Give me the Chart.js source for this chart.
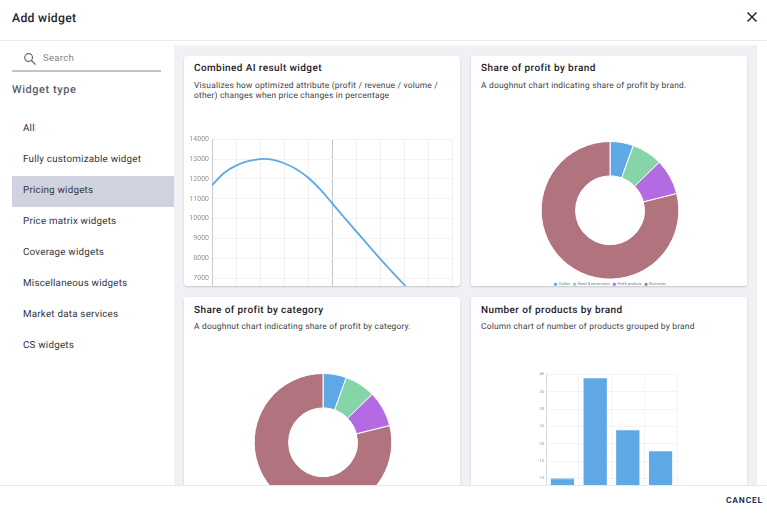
<!DOCTYPE html>
<html>
<head>
<meta charset="utf-8">
<script src="https://cdn.jsdelivr.net/npm/chart.js@4"></script>
<style>
  html, body { margin: 0; padding: 0; background: #fff; }
  body { width: 767px; height: 515px; position: relative; overflow: hidden; font-family: Roboto, sans-serif; color: #22252b; text-rendering: geometricPrecision; }
  .abs { position: absolute; white-space: nowrap; }
  #main { position: absolute; left: 174px; top: 45px; width: 583px; height: 470px; background: #f0f1f5; }
  #topline { position: absolute; left: 0; top: 40px; width: 767px; height: 1px; background: #e9eaee; }
  #footer { position: absolute; left: 0; top: 485px; width: 767px; height: 30px; background: #fff; border-top: 1px solid #e6e7ea; box-sizing: border-box; }
  .card { position: absolute; background: #fff; border-radius: 3px; box-shadow: 0 1px 2px rgba(40,45,70,.22); overflow: hidden; width: 276px; }
  .card h3 { position: absolute; left: 10px; top: 6px; margin: 0; font-size: 10px; line-height: 14px; font-weight: 500; letter-spacing: .4px; color: #1d2026; white-space: nowrap; }
  .card p { position: absolute; left: 10px; top: 25px; margin: 0; font-size: 8.4px; line-height: 10px; letter-spacing: .22px; color: #3c3f46; white-space: nowrap; }
  .card canvas { position: absolute; left: 0; }
  .nav { position: absolute; left: 23px; font-size: 9.8px; letter-spacing: .22px; line-height: 12px; color: #33363d; white-space: nowrap; }
  #sel { position: absolute; left: 12px; top: 176px; width: 162px; height: 31px; background: #d0d3df; }
</style>
</head>
<body>
<div id="main"></div>
<div id="topline"></div>
<div class="abs" style="left:12px;top:10px;font-size:12.2px;line-height:16px;font-weight:500;letter-spacing:.3px;color:#23262c">Add widget</div>
<svg class="abs" style="left:746px;top:11px" width="12" height="12" viewBox="0 0 12 12"><path d="M1.5 1.5L10.5 10.5M10.5 1.5L1.5 10.5" stroke="#23262c" stroke-width="1.5" fill="none"/></svg>

<svg class="abs" style="left:23px;top:52px" width="14" height="14" viewBox="0 0 14 14"><circle cx="5.6" cy="5.6" r="3.9" stroke="#63666d" stroke-width="1.2" fill="none"/><path d="M8.6 8.6L12.6 12.6" stroke="#63666d" stroke-width="1.3"/></svg>
<div class="abs" style="left:43px;top:52px;font-size:9.5px;line-height:13px;letter-spacing:.3px;color:#83868d">Search</div>
<div class="abs" style="left:12px;top:70px;width:149px;height:2px;background:#c3c4c8"></div>
<div class="abs" style="left:12px;top:83px;font-size:11px;line-height:14px;font-weight:500;letter-spacing:.55px;color:#5d6067">Widget type</div>
<div id="sel"></div>
<div id="navList"></div>

<div class="card" style="left:184px;top:56px;height:230px">
  <h3>Combined AI result widget</h3>
  <p>Visualizes how optimized attribute (profit / revenue / volume /<br>other) changes when price changes in percentage</p>
  <canvas id="lineChart" style="top:76px" width="276" height="178"></canvas>
</div>
<div class="card" style="left:471px;top:56px;height:230px">
  <h3>Share of profit by brand</h3>
  <p>A doughnut chart indicating share of profit by brand.</p>
  <canvas id="brandChart" style="top:85px;left:1px" width="276" height="155"></canvas>
</div>
<div class="card" style="left:184px;top:297px;height:231px">
  <h3 style="top:7px">Share of profit by category</h3>
  <p>A doughnut chart indicating share of profit by category.</p>
  <canvas id="categoryChart" style="top:76px;left:1px" width="276" height="155"></canvas>
</div>
<div class="card" style="left:471px;top:297px;height:231px">
  <h3 style="top:7px">Number of products by brand</h3>
  <p>Column chart of number of products grouped by brand</p>
  <canvas id="barChart" style="top:73px" width="276" height="151"></canvas>
</div>

<div id="footer"></div>
<div class="abs" style="left:726px;top:495px;font-size:8.5px;line-height:12px;font-weight:700;letter-spacing:.8px;color:#2a3358">CANCEL</div>

<script>
const navItems = ['All', 'Fully customizable widget', 'Pricing widgets', 'Price matrix widgets', 'Coverage widgets', 'Miscellaneous widgets', 'Market data services', 'CS widgets'];

const priceChanges = [-50, -45, -40, -35, -30, -25, -20, -15, -10, -5, 0, 5, 10, 15, 20, 25, 30, 35, 40, 45, 50];
const optimizedValues = [11680, 12300, 12670, 12890, 13000, 12970, 12790, 12500, 12070, 11480, 10780, 10070, 9370, 8680, 7980, 7320, 6680, 6000, 5300, 4600, 3900];

const shareLabels = ['Clothes', 'Home & construction', 'Health products', 'Electronics'];
const brandShares = [5.5, 7.2, 8.4, 78.9];
const categoryShares = [5.5, 7.2, 8.4, 78.9];
const shareColors = ['#5fa8e6', '#86d5a8', '#b36ae2', '#b1747e'];

const brandNames = ['Brand A', 'Brand B', 'Brand C', 'Brand D'];
const productCounts = [10, 39, 24, 18];

document.getElementById('navList').innerHTML = navItems
  .map((name, i) => `<div class="nav" style="top:${123 + i * 31}px">${name}</div>`)
  .join('');

new Chart(document.getElementById('lineChart'), {
  type: 'line',
  data: {
    datasets: [{
      data: priceChanges.map((x, i) => ({ x: x, y: optimizedValues[i] })),
      borderColor: '#5aa9e8',
      borderWidth: 1.8,
      pointRadius: 0,
      tension: 0.4
    }]
  },
  options: {
    responsive: false,
    animation: false,
    layout: { padding: { right: 8, top: 0, bottom: 0 } },
    plugins: { legend: { display: false }, tooltip: { enabled: false } },
    scales: {
      x: {
        type: 'linear',
        min: -50,
        max: 50,
        ticks: { stepSize: 10, display: false },
        grid: { color: ctx => (ctx.tick.value === 0 ? '#c2c4c8' : ctx.index === 0 ? '#e2e3e6' : '#eff0f2'), drawTicks: false, tickLength: 0 },
        afterFit: axis => { axis.height = 12; }
      },
      y: {
        min: 6000,
        max: 14000,
        ticks: { stepSize: 1000, font: { size: 7, family: 'Roboto' }, color: '#909297', padding: 3, callback: v => String(v) },
        grid: { color: '#f1f2f4', drawTicks: false, tickLength: 0 },
        afterFit: axis => { axis.width = 28; }
      }
    }
  }
});

function drawShareChart(id, values) {
  new Chart(document.getElementById(id), {
    type: 'doughnut',
    data: {
      labels: shareLabels,
      datasets: [{ data: values, backgroundColor: shareColors, borderColor: '#ffffff', borderWidth: 1 }]
    },
    options: {
      responsive: false,
      animation: false,
      cutout: '50%',
      layout: { padding: 0 },
      plugins: {
        tooltip: { enabled: false },
        legend: {
          position: 'bottom',
          labels: { usePointStyle: true, boxWidth: 3, boxHeight: 3, padding: 3, font: { size: 3.4, family: 'Roboto' }, color: '#75777c' }
        }
      }
    }
  });
}
drawShareChart('brandChart', brandShares);
drawShareChart('categoryChart', categoryShares);

new Chart(document.getElementById('barChart'), {
  type: 'bar',
  data: {
    labels: brandNames,
    datasets: [{ data: productCounts, backgroundColor: '#5fa8e6', borderColor: '#78b5ea', borderWidth: { top: 1 } }]
  },
  options: {
    responsive: false,
    animation: false,
    layout: { padding: { right: 70 } },
    plugins: { legend: { display: false }, tooltip: { enabled: false } },
    scales: {
      x: {
        ticks: { font: { size: 4 }, color: '#85878c' },
        grid: { color: '#f3f4f5', drawTicks: false, tickLength: 0 },
        afterFit: axis => { axis.height = 8; }
      },
      y: {
        min: 0,
        max: 40,
        ticks: { stepSize: 5, font: { size: 4, family: 'Roboto' }, color: '#909297', padding: 2 },
        grid: { color: '#f3f4f5', drawTicks: false, tickLength: 0 },
        afterFit: axis => { axis.width = 75; }
      }
    }
  }
});
</script>
</body>
</html>
